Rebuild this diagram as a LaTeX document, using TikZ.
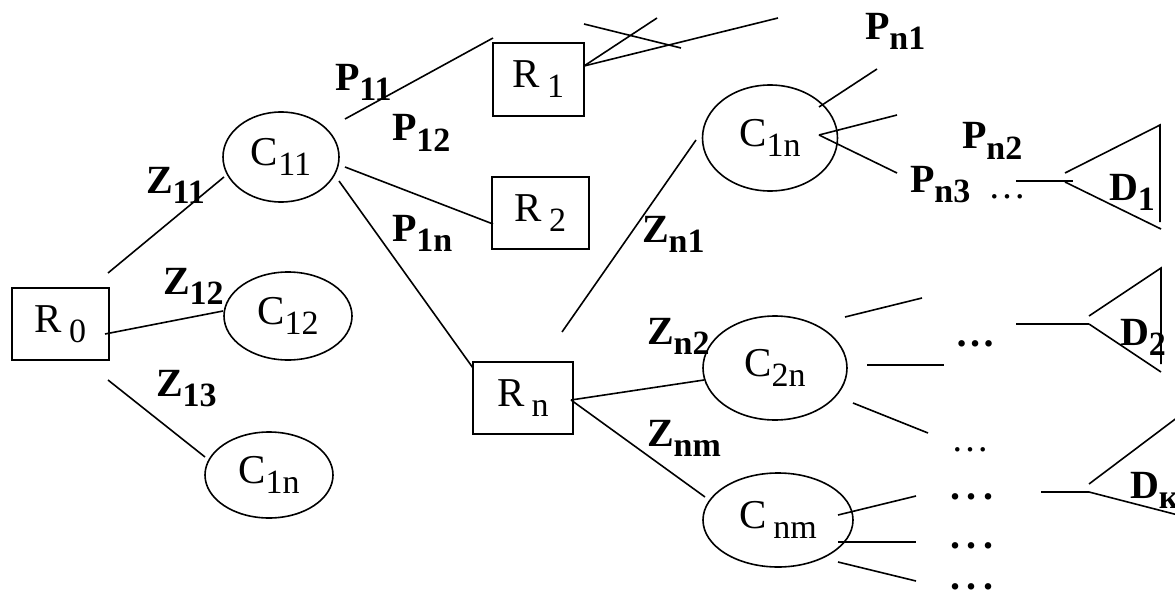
\documentclass[tikz,border=0pt]{standalone}
\usepackage{fontspec}
\setmainfont{Liberation Serif}
\usetikzlibrary{shapes.geometric}
\newcommand{\sbs}[1]{\raisebox{-10pt}{\fontsize{34}{34}\selectfont #1}}
\begin{document}
\begin{tikzpicture}[x=1pt,y=-1pt,
  every node/.style={inner sep=0pt, outer sep=0pt, font=\fontsize{41}{44}\selectfont},
  box/.style={draw, line width=1.6pt, rectangle},
  ell/.style={draw, line width=1.6pt, ellipse},
  lbl/.style={anchor=base west, font=\fontsize{40}{44}\selectfont\bfseries},
  bigdots/.style={anchor=base west, font=\fontsize{40}{44}\selectfont\bfseries},
  smalldots/.style={anchor=base west, font=\fontsize{38}{40}\selectfont},
  wire/.style={line width=1.6pt}]
\useasboundingbox (0,0) rectangle (1175,591);

% boxes
\node[box, minimum width=97pt, minimum height=72pt] (R0) at (60.5,324) {R\,\sbs{0}};
\node[box, minimum width=91pt, minimum height=73pt] (R1) at (538.5,79.5) {R\,\sbs{1}};
\node[box, minimum width=97pt, minimum height=72pt] (R2) at (540.5,213) {R\,\sbs{2}};
\node[box, minimum width=100pt, minimum height=72pt] (Rn) at (523,398) {R\,\sbs{n}};

% ellipses
\node[ell, minimum width=116pt, minimum height=90pt] (C11) at (281,157) {C\sbs{11}};
\node[ell, minimum width=128pt, minimum height=88pt] (C12) at (288,316) {C\sbs{12}};
\node[ell, minimum width=128pt, minimum height=86pt] (C1nL) at (269,475) {C\sbs{1n}};
\node[ell, minimum width=135pt, minimum height=106pt] (C1nR) at (770,138) {C\sbs{1n}};
\node[ell, minimum width=144pt, minimum height=104pt] (C2n) at (775,368) {C\sbs{2n}};
\node[ell, minimum width=150pt, minimum height=94pt] (Cnm) at (778,520) {C\,\sbs{nm}};

% connector end points
\coordinate (R0a) at (108,273);  \coordinate (C11a) at (224,177);
\coordinate (R0b) at (105,334);  \coordinate (C12a) at (223,311);
\coordinate (R0c) at (108,380);  \coordinate (C1nLa) at (205,457);
\coordinate (C11b) at (345,119); \coordinate (R1a) at (493,38);
\coordinate (C11c) at (345,167); \coordinate (R2a) at (493,224);
\coordinate (C11d) at (339,181); \coordinate (Rna) at (473,368);
\coordinate (R1b) at (584,66);   \coordinate (t1) at (657,18); \coordinate (t2) at (778,18);
\coordinate (R1c) at (584,24);   \coordinate (t3) at (681,48);
\coordinate (Rnb) at (562,332);  \coordinate (C1nRa) at (696,140);
\coordinate (Rnc) at (571,400);  \coordinate (C2na) at (704,380); \coordinate (Cnma) at (705,497);
\coordinate (C1nRb) at (819,107); \coordinate (t4) at (877,69);
\coordinate (C1nRc) at (819,135); \coordinate (t5) at (897,115); \coordinate (t6) at (897,173);
\coordinate (C2nb) at (845,317); \coordinate (t7) at (922,298);
\coordinate (C2nc) at (867,365); \coordinate (t8) at (944,365);
\coordinate (C2nd) at (853,403); \coordinate (t9) at (928,433);
\coordinate (Cnmb) at (838,515); \coordinate (t10) at (916,496);
\coordinate (Cnmc) at (838,542); \coordinate (t11) at (916,542);
\coordinate (Cnmd) at (838,562); \coordinate (t12) at (916,581);

% D1
\coordinate (D1h) at (1016,181); \coordinate (D1t) at (1073,181);
\coordinate (D1a) at (1065,173); \coordinate (D1top) at (1160,125);
\coordinate (D1bot) at (1160,222); \coordinate (D1b) at (1065,182); \coordinate (D1low) at (1161,229);
% D2
\coordinate (D2h) at (1016,324); \coordinate (D2t) at (1089,324);
\coordinate (D2a) at (1089,316); \coordinate (D2top) at (1161,268);
\coordinate (D2bot) at (1161,364); \coordinate (D2low) at (1161,372);
% Dk
\coordinate (Dkh) at (1041,492); \coordinate (Dkt) at (1089,492);
\coordinate (Dka) at (1089,484); \coordinate (Dktop) at (1178,417);
\coordinate (Dklow) at (1178,515);

% connectors
\draw[wire] (R0a) -- (C11a);
\draw[wire] (R0b) -- (C12a);
\draw[wire] (R0c) -- (C1nLa);
\draw[wire] (C11b) -- (R1a);
\draw[wire] (C11c) -- (R2a);
\draw[wire] (C11d) -- (Rna);
\draw[wire] (R1b) -- (t1);
\draw[wire] (R1b) -- (t2);
\draw[wire] (R1c) -- (t3);
\draw[wire] (Rnb) -- (C1nRa);
\draw[wire] (Rnc) -- (C2na);
\draw[wire] (Rnc) -- (Cnma);
\draw[wire] (C1nRb) -- (t4);
\draw[wire] (C1nRc) -- (t5);
\draw[wire] (C1nRc) -- (t6);
\draw[wire] (C2nb) -- (t7);
\draw[wire] (C2nc) -- (t8);
\draw[wire] (C2nd) -- (t9);
\draw[wire] (Cnmb) -- (t10);
\draw[wire] (Cnmc) -- (t11);
\draw[wire] (Cnmd) -- (t12);

\draw[wire] (D1h) -- (D1t);
\draw[wire] (D1a) -- (D1top) -- (D1bot);
\draw[wire] (D1b) -- (D1low);
\draw[wire] (D2h) -- (D2t);
\draw[wire] (D2a) -- (D2top) -- (D2bot);
\draw[wire] (D2t) -- (D2low);
\draw[wire] (Dkh) -- (Dkt);
\draw[wire] (Dka) -- (Dktop);
\draw[wire] (Dkt) -- (Dklow);

% labels
\node[lbl] (lZ11) at (146,193) {Z\sbs{11}};
\node[lbl] (lZ12) at (163,294) {Z\sbs{12}};
\node[lbl] (lZ13) at (156,396) {Z\sbs{13}};
\node[lbl] (lP11) at (335,91) {P\sbs{11}};
\node[lbl] (lP12) at (392,141) {P\sbs{12}};
\node[lbl] (lP1n) at (392,241) {P\sbs{1n}};
\node[lbl] (lZn1) at (642,242) {Z\sbs{n1}};
\node[lbl] (lZn2) at (647,344) {Z\sbs{n2}};
\node[lbl] (lZnm) at (647,446) {Z\sbs{nm}};
\node[lbl] (lPn1) at (865,40) {P\sbs{n1}};
\node[lbl] (lPn2) at (962,149) {P\sbs{n2}};
\node[lbl] (lPn3) at (910,192) {P\sbs{n3}};
\node[lbl] (lD1) at (1109,200) {D\sbs{1}};
\node[lbl] (lD2) at (1120,345) {D\sbs{2}};
\node[lbl] (lDk) at (1130,498) {D\sbs{к}};

% dots
\node[smalldots] (dd1) at (988,198) {…};
\node[bigdots] (dd2) at (955,346) {…};
\node[smalldots] (dd3) at (951,451) {…};
\node[bigdots] (dd4) at (950,499) {.\,.\,.};
\node[bigdots] (dd5) at (950,548) {.\,.\,.};
\node[bigdots] (dd6) at (950,589) {.\,.\,.};
\end{tikzpicture}
\end{document}
